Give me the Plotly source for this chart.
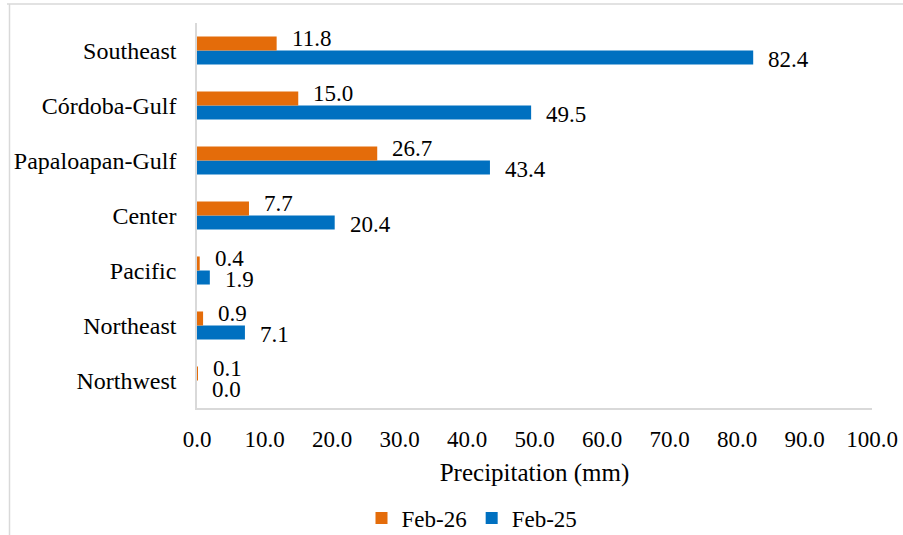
import plotly.graph_objects as go

regions = ["Southeast", "Córdoba-Gulf", "Papaloapan-Gulf", "Center", "Pacific", "Northeast", "Northwest"]
feb26 = [11.8, 15.0, 26.7, 7.7, 0.4, 0.9, 0.1]
feb25 = [82.4, 49.5, 43.4, 20.4, 1.9, 7.1, 0.0]
x_ticks = [0, 10, 20, 30, 40, 50, 60, 70, 80, 90, 100]

ORANGE = "#E46C0A"
BLUE = "#0070C0"
FONT = "serif"

fig = go.Figure()
fig.add_trace(go.Bar(name="Feb-25", y=regions, x=feb25, orientation="h",
                     marker=dict(color=BLUE, line=dict(width=0))))
fig.add_trace(go.Bar(name="Feb-26", y=regions, x=feb26, orientation="h",
                     marker=dict(color=ORANGE, line=dict(width=0))))

annotations = []
for r, v in zip(regions, feb26):
    annotations.append(dict(x=v, y=r, xref="x", yref="y", text=f"{v:.1f}", showarrow=False,
                            xanchor="left", yanchor="middle", xshift=13, yshift=12,
                            font=dict(family=FONT, size=23, color="#000000")))
for r, v in zip(regions, feb25):
    annotations.append(dict(x=v, y=r, xref="x", yref="y", text=f"{v:.1f}", showarrow=False,
                            xanchor="left", yanchor="middle", xshift=13, yshift=-9,
                            font=dict(family=FONT, size=23, color="#000000")))

L, R, T, B = 197, 31, 23, 127
W, H = 903, 535
pw, ph = W - L - R, H - T - B
def px(xp):
    return (xp - L) / pw
def py(yp):
    return (H - B - yp) / ph

shapes = [
    dict(type="line", xref="paper", yref="paper", x0=px(7), x1=px(910), y0=py(4), y1=py(4),
         line=dict(color="#D9D9D9", width=1.5)),
    dict(type="line", xref="paper", yref="paper", x0=px(9.5), x1=px(9.5), y0=py(4), y1=py(540),
         line=dict(color="#D9D9D9", width=1.5)),
]

fig.update_layout(
    width=W, height=H,
    margin=dict(l=L, r=R, t=T, b=B, pad=0, autoexpand=False),
    paper_bgcolor="white", plot_bgcolor="white",
    barmode="group", bargap=0.49, bargroupgap=0,
    font=dict(family=FONT, size=23, color="#000000"),
    xaxis=dict(range=[0, 100], tickvals=x_ticks, tickformat=".1f", showgrid=False, zeroline=False,
               showline=True, linecolor="#D9D9D9", linewidth=1.5, ticks="", automargin=False,
               ticklabelstandoff=10, tickfont=dict(family=FONT, size=23),
               title=dict(text="Precipitation (mm)", font=dict(family=FONT, size=25), standoff=12)),
    yaxis=dict(categoryorder="array", categoryarray=regions[::-1], showgrid=False, zeroline=False,
               showline=True, linecolor="#D9D9D9", linewidth=1.5, ticks="", automargin=False,
               ticklabelstandoff=14, tickfont=dict(family=FONT, size=24)),
    legend=dict(orientation="h", traceorder="reversed", x=px(472), xanchor="center",
                y=py(518), yanchor="middle", font=dict(family=FONT, size=23), itemwidth=30,
                bgcolor="rgba(0,0,0,0)"),
    annotations=annotations,
    shapes=shapes,
    showlegend=True,
)

fig.write_html("out.html", config={"displayModeBar": False},
               post_script="document.body.style.margin='0';")
